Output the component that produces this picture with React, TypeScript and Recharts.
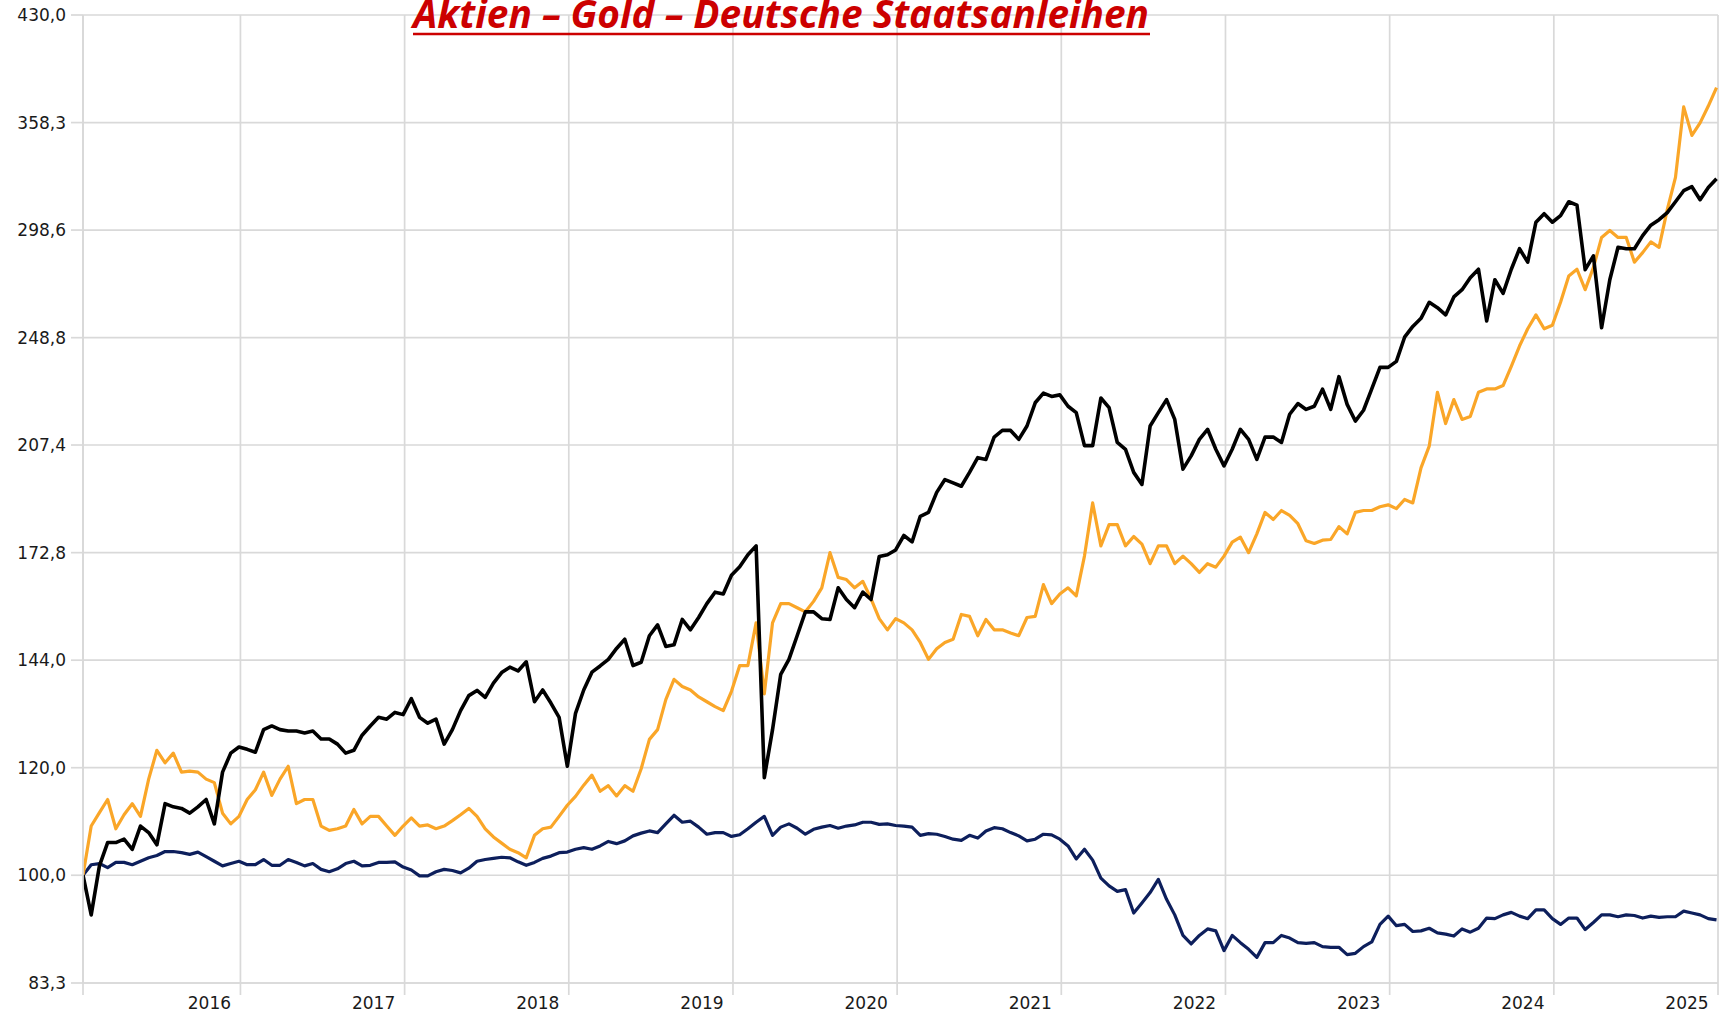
import React from 'react';
import { LineChart, Line, XAxis, YAxis, CartesianGrid } from 'recharts';

// Semi-monthly observations (step in years) starting mid-January 2016
const START = 2016.041;
const STEP = 0.05;

// Aktien (black), index 100 = start
const aktien = [
  100, 93.5, 101.6, 105.7, 105.7, 106.3, 104.5, 108.7, 107.5, 105.3,
  112.9, 112.3, 112.0, 111.1, 112.3, 113.7, 109.1, 119.1, 123.0, 124.3,
  123.8, 123.2, 128.0, 128.8, 128.0, 127.7, 127.7, 127.3, 127.7, 126.0,
  126.0, 124.9, 123.0, 123.6, 126.8, 128.8, 130.7, 130.3, 131.8, 131.3,
  134.9, 130.7, 129.4, 130.3, 124.9, 128.0, 132.2, 135.6, 136.8, 135.2,
  138.5, 141.0, 142.3, 141.4, 143.6, 134.2, 136.9, 133.9, 130.7, 120.3,
  131.6, 136.9, 141.1, 142.6, 144.2, 146.9, 149.2, 142.7, 143.5, 150.1,
  152.9, 147.4, 147.8, 154.3, 151.6, 154.8, 158.5, 161.6, 161.1, 166.3,
  168.7, 172.2, 174.8, 118.0, 128.0, 140.6, 144.2, 150.1, 156.3, 156.3,
  154.5, 154.3, 162.8, 159.6, 157.4, 161.6, 159.6, 171.7, 172.2, 173.6,
  177.9, 176.0, 183.8, 185.0, 191.4, 195.6, 194.5, 193.4, 198.0, 203.0,
  202.4, 210.2, 212.6, 212.6, 209.4, 214.2, 222.8, 226.5, 225.2, 225.8,
  221.5, 219.1, 207.2, 207.2, 224.6, 221.0, 208.3, 205.9, 198.0, 194.0,
  214.2, 219.1, 224.0, 216.6, 199.1, 203.6, 209.4, 213.0, 205.9, 200.2,
  205.9, 213.0, 209.4, 202.4, 210.2, 210.2, 208.3, 218.5, 222.5, 220.3,
  221.5, 228.0, 220.3, 232.9, 222.2, 216.0, 220.0, 228.1, 236.6, 236.6,
  239.0, 249.0, 253.6, 257.1, 264.2, 261.8, 258.6, 266.6, 269.9, 275.4,
  279.4, 256.0, 274.5, 268.2, 279.4, 289.3, 282.8, 302.6, 307.0, 302.6,
  306.0, 313.3, 311.5, 279.2, 285.8, 253.0, 274.5, 290.0, 289.3, 289.3,
  295.8, 301.1, 303.9, 307.6, 313.3, 319.2, 321.4, 314.4, 321.0, 325.7,
];

// Gold (orange)
const gold = [
  100, 108.7, 111.2, 113.7, 108.2, 110.8, 112.9, 110.5, 117.7, 123.6,
  121.0, 123.0, 119.1, 119.3, 119.1, 117.7, 117.0, 111.1, 109.1, 110.5,
  113.7, 115.6, 119.1, 114.5, 117.7, 120.3, 112.9, 113.7, 113.7, 108.7,
  107.9, 108.2, 108.7, 111.8, 109.1, 110.5, 110.5, 108.7, 107.0, 108.7,
  110.2, 108.7, 108.9, 108.2, 108.7, 109.7, 110.8, 112.0, 110.5, 108.2,
  106.7, 105.6, 104.5, 103.9, 103.0, 107.0, 108.2, 108.5, 110.5, 112.6,
  114.3, 116.5, 118.5, 115.3, 116.4, 114.4, 116.4, 115.3, 119.8, 125.9,
  128.0, 134.7, 139.4, 137.7, 136.9, 135.3, 134.2, 133.1, 132.2, 136.6,
  142.7, 142.7, 153.4, 136.0, 153.4, 158.5, 158.5, 157.4, 156.3, 159.1,
  162.8, 172.8, 165.7, 165.1, 162.8, 164.6, 159.8, 154.5, 151.6, 154.5,
  153.4, 151.6, 148.4, 144.2, 146.8, 148.4, 149.2, 155.6, 155.1, 150.1,
  154.3, 151.6, 151.6, 150.8, 150.1, 154.8, 155.1, 163.7, 158.5, 161.1,
  162.8, 160.6, 171.8, 188.0, 174.8, 181.2, 181.2, 174.8, 177.6, 175.3,
  169.6, 174.8, 174.8, 169.6, 171.8, 169.6, 167.1, 169.6, 168.6, 171.8,
  175.9, 177.4, 172.8, 178.4, 185.0, 182.8, 185.6, 184.1, 181.5, 176.3,
  175.5, 176.5, 176.7, 180.6, 178.4, 185.0, 185.6, 185.6, 186.8, 187.4,
  186.2, 189.1, 188.0, 199.5, 207.0, 226.8, 215.1, 224.0, 216.6, 217.7,
  226.8, 228.1, 228.1, 229.4, 237.0, 245.3, 252.6, 258.6, 252.6, 254.1,
  264.2, 276.2, 279.4, 269.9, 280.2, 294.9, 298.4, 294.9, 294.9, 282.8,
  287.4, 292.7, 290.0, 309.1, 326.5, 368.0, 350.6, 358.1, 368.5, 380.2,
];

// Deutsche Staatsanleihen (navy)
const anleihen = [
  100, 101.8, 102.0, 101.3, 102.2, 102.2, 101.8, 102.4, 103.0, 103.4,
  104.1, 104.1, 103.9, 103.6, 104.0, 103.2, 102.4, 101.6, 102.0, 102.4,
  101.8, 101.8, 102.7, 101.7, 101.7, 102.7, 102.2, 101.6, 102.0, 101.0,
  100.6, 101.1, 102.0, 102.4, 101.6, 101.7, 102.2, 102.2, 102.3, 101.4,
  100.9, 99.9, 99.9, 100.6, 101.0, 100.8, 100.4, 101.2, 102.4, 102.7,
  102.9, 103.1, 103.0, 102.3, 101.7, 102.2, 102.9, 103.3, 103.9, 104.0,
  104.5, 104.8, 104.5, 105.1, 105.9, 105.5, 106.0, 106.9, 107.4, 107.8,
  107.5, 109.1, 110.7, 109.4, 109.6, 108.5, 107.2, 107.5, 107.5, 106.8,
  107.1, 108.2, 109.4, 110.5, 107.0, 108.5, 109.1, 108.3, 107.2, 108.1,
  108.5, 108.8, 108.3, 108.7, 108.9, 109.4, 109.4, 109.0, 109.1, 108.8,
  108.7, 108.5, 107.0, 107.3, 107.2, 106.8, 106.3, 106.1, 107.0, 106.5,
  107.8, 108.4, 108.2, 107.5, 106.9, 106.0, 106.3, 107.2, 107.1, 106.3,
  105.1, 102.8, 104.5, 102.6, 99.5, 98.2, 97.3, 97.6, 93.8, 95.4,
  97.1, 99.3, 96.0, 93.5, 90.3, 89.0, 90.3, 91.3, 91.0, 88.0,
  90.3, 89.2, 88.2, 87.0, 89.2, 89.2, 90.3, 89.9, 89.2, 89.1,
  89.2, 88.6, 88.5, 88.5, 87.4, 87.6, 88.6, 89.3, 92.0, 93.3,
  91.8, 92.0, 90.9, 91.0, 91.4, 90.7, 90.5, 90.2, 91.3, 90.8,
  91.4, 93.0, 92.9, 93.5, 93.9, 93.3, 92.9, 94.3, 94.3, 92.9,
  92.0, 93.0, 93.0, 91.2, 92.3, 93.5, 93.5, 93.2, 93.5, 93.4,
  93.0, 93.3, 93.1, 93.2, 93.2, 94.1, 93.8, 93.5, 92.9, 92.7,
];

const yTicks = [83.3, 100, 120, 144, 172.8, 207.4, 248.8, 298.6, 358.3, 430];
const yearBoundaries = [2017, 2018, 2019, 2020, 2021, 2022, 2023, 2024, 2025, 2026];
const X_MIN = START;
const X_MAX = 2026;
const xTicks = [X_MIN, ...yearBoundaries];

const TITLE = 'Aktien – Gold – Deutsche Staatsanleihen';

const data = aktien.map((v, i) => ({
  t: START + i * STEP,
  aktien: v,
  gold: gold[i],
  anleihen: anleihen[i],
}));

const GRID = '#d9d9d9';
const AXIS_FONT = "'DejaVu Sans', Verdana, sans-serif";

const XTick = (props: any) => {
  const { x, y, payload } = props;
  const v = payload.value as number;
  if (v < 2016.5) return <g />;
  return (
    <text
      x={x - 31}
      y={y}
      dy="0.71em"
      textAnchor="middle"
      fill="#1a1a1a"
      fontSize={17}
      fontFamily={AXIS_FONT}
    >
      {Math.round(v) - 1}
    </text>
  );
};

export default function App() {
  return (
    <div
      style={{
        position: 'absolute',
        left: 0,
        top: 0,
        width: 1719,
        height: 1017,
        background: '#fff',
        fontFamily: AXIS_FONT,
      }}
    >
      <LineChart
        width={1719}
        height={1017}
        data={data}
        margin={{ top: 15, right: 1, bottom: 0, left: 0 }}
      >
        <CartesianGrid stroke={GRID} strokeWidth={1.7} />
        <XAxis
          type="number"
          dataKey="t"
          domain={[X_MIN, X_MAX]}
          ticks={xTicks}
          interval={0}
          allowDataOverflow
          height={34}
          tickSize={12}
          tickMargin={2}
          axisLine={{ stroke: GRID, strokeWidth: 1.7 }}
          tickLine={{ stroke: GRID, strokeWidth: 1.7 }}
          tick={<XTick />}
        />
        <YAxis
          type="number"
          scale="log"
          domain={[83.3, 430]}
          ticks={yTicks}
          interval={0}
          allowDataOverflow
          width={83}
          tickSize={12}
          tickMargin={5}
          axisLine={{ stroke: GRID, strokeWidth: 1.7 }}
          tickLine={{ stroke: GRID, strokeWidth: 1.7 }}
          tick={{ fill: '#1a1a1a', fontSize: 17, fontFamily: AXIS_FONT }}
          tickFormatter={(v: number) => v.toFixed(1).replace('.', ',')}
        />
        <Line
          type="linear"
          dataKey="anleihen"
          stroke="#0d1f5c"
          strokeWidth={3.2}
          dot={false}
          strokeLinejoin="round"
          isAnimationActive={false}
        />
        <Line
          type="linear"
          dataKey="gold"
          stroke="#faa628"
          strokeWidth={3.2}
          dot={false}
          strokeLinejoin="round"
          isAnimationActive={false}
        />
        <Line
          type="linear"
          dataKey="aktien"
          stroke="#000000"
          strokeWidth={3.6}
          dot={false}
          strokeLinejoin="round"
          isAnimationActive={false}
        />
      </LineChart>
      <svg
        width={1719}
        height={60}
        style={{ position: 'absolute', left: 0, top: 0, pointerEvents: 'none' }}
      >
        <text
          x={413}
          y={28}
          fontFamily="'Open Sans', sans-serif"
          fontWeight={700}
          fontStyle="italic"
          fontSize={40}
          fill="#cc0000"
          textLength={736}
          lengthAdjust="spacingAndGlyphs"
        >
          {TITLE}
        </text>
        <line x1={413} x2={1150} y1={34} y2={34} stroke="#cc0000" strokeWidth={2.5} />
      </svg>
    </div>
  );
}
